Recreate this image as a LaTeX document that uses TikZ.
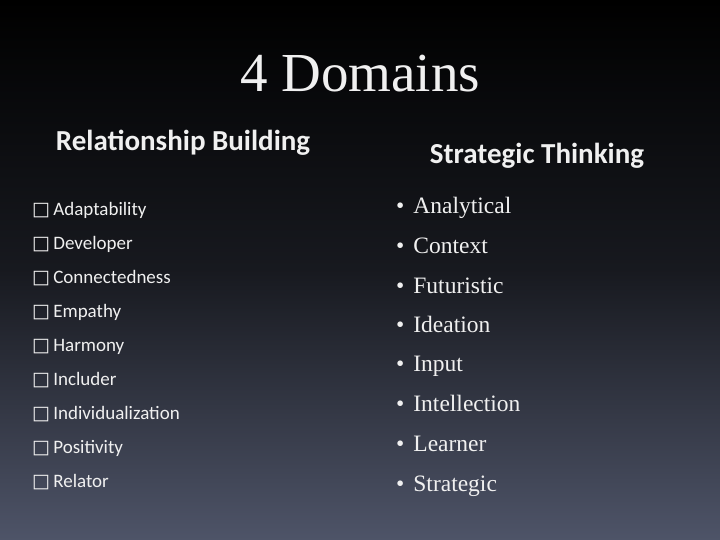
\documentclass[tikz,border=0pt]{standalone}
\usepackage{fontspec}
\setmainfont{Liberation Serif}
\newfontfamily\carfont{Carlito}
\newfontfamily\dvfont{DejaVu Sans}
\definecolor{bgbot}{RGB}{78,84,104}
\definecolor{txt}{RGB}{240,240,240}
\begin{document}
\begin{tikzpicture}[x=1pt,y=-1pt,
  lefti/.style={anchor=base west,text=txt,font=\carfont\fontsize{19}{21}\selectfont,inner sep=0},
  righti/.style={anchor=base west,text=txt,font=\fontsize{23.5}{26}\selectfont,inner sep=0},
  head/.style={anchor=base,text=txt,font=\carfont\bfseries\fontsize{29}{31}\selectfont,inner sep=0}]
\shade[top color=black,bottom color=bgbot,middle color=black!70!bgbot] (0,0) rectangle (720,540);
\useasboundingbox (0,0) rectangle (720,540);
\node[anchor=base,text=txt,font=\fontsize{55}{60}\selectfont,inner sep=0] (title) at (360,92) {4 Domains};
\node[head] (h1) at (183,151) {Relationship Building};
\node[head] (h2) at (537,164) {Strategic Thinking};
\foreach \t [count=\i] in {Adaptability,Developer,Connectedness,Empathy,Harmony,Includer,Individualization,Positivity,Relator}{
  \node[lefti] (l\i) at (32,{181+34*\i}) {{\dvfont\fontsize{19}{21}\selectfont □}\,\t};
}
\foreach \t/\yy [count=\i] in {Analytical/214,Context/253,Futuristic/293,Ideation/332,Input/371,Intellection/411,Learner/451,Strategic/491}{
  \node[righti] (r\i) at (396,\yy) {•\hspace{9pt}\t};
}
\end{tikzpicture}
\end{document}
